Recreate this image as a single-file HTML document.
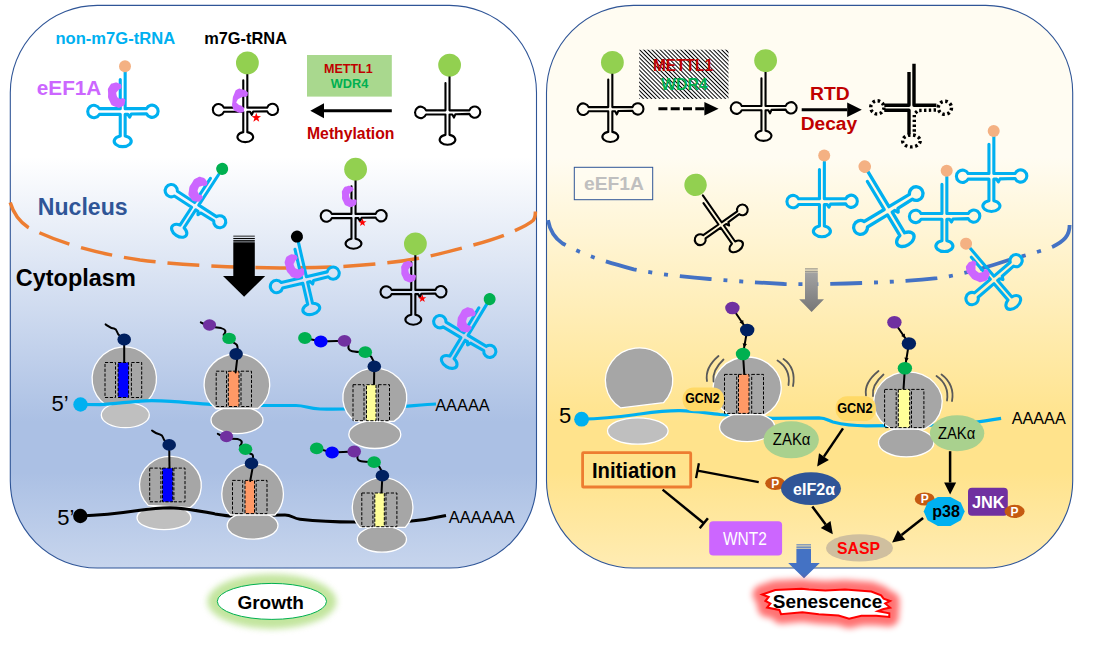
<!DOCTYPE html>
<html><head><meta charset="utf-8"><title>m7G tRNA model</title>
<style>
html,body{margin:0;padding:0;background:#fff;}
svg{display:block;font-family:'Liberation Sans', Arial, sans-serif;}
</style></head><body>
<svg width="1097" height="645" viewBox="0 0 1097 645">
<defs>
<linearGradient id="gl" x1="0" y1="0" x2="0" y2="1">
<stop offset="0" stop-color="#ffffff"/><stop offset="0.27" stop-color="#ffffff"/><stop offset="0.74" stop-color="#abc0e4"/><stop offset="0.83" stop-color="#abc0e4"/><stop offset="1" stop-color="#c7d5ed"/>
</linearGradient>
<linearGradient id="gr" x1="0" y1="0" x2="0" y2="1">
<stop offset="0" stop-color="#fffcf2"/><stop offset="0.27" stop-color="#fffcf2"/><stop offset="0.74" stop-color="#ffe38c"/><stop offset="0.83" stop-color="#ffe38c"/><stop offset="1" stop-color="#ffecb3"/>
</linearGradient>
<linearGradient id="gg" x1="0" y1="0" x2="0" y2="1">
<stop offset="0" stop-color="#a3a3a3"/><stop offset="1" stop-color="#767676"/>
</linearGradient>
<pattern id="hatch" width="2.9" height="2.9" patternUnits="userSpaceOnUse" patternTransform="rotate(45)">
<rect width="2.9" height="2.9" fill="#fff"/><rect width="2.9" height="1.0" fill="#000"/>
</pattern>
<filter id="glow" x="-30%" y="-80%" width="160%" height="260%"><feGaussianBlur stdDeviation="3.2"/></filter>
<filter id="glow2" x="-30%" y="-100%" width="160%" height="300%"><feGaussianBlur stdDeviation="3.4"/></filter>
</defs>
<rect width="1097" height="645" fill="#fff"/>

<rect x="10.3" y="5.4" width="526.2" height="562.6" rx="87" ry="87" fill="url(#gl)" stroke="#2f5597" stroke-width="1.1"/>
<rect x="546.5" y="5.4" width="526.2" height="562.6" rx="87" ry="87" fill="url(#gr)" stroke="#2f5597" stroke-width="1.1"/>
<text x="55.5" y="44.2" font-size="16.56" fill="#00b0f0" font-weight="700" text-anchor="start" textLength="119.6" lengthAdjust="spacingAndGlyphs">non-m7G-tRNA</text>
<text x="204.2" y="44.0" font-size="16.38" fill="#000" font-weight="700" text-anchor="start" textLength="82.8" lengthAdjust="spacingAndGlyphs">m7G-tRNA</text>
<text x="36.8" y="94.6" font-size="20.73" fill="#cc66ff" font-weight="700" text-anchor="start" textLength="64.5" lengthAdjust="spacingAndGlyphs">eEF1A</text>
<g transform="translate(122.7,111.5) rotate(0)">
<path d="M -2.45,-32 L -2.45,-2.85 L -23.3,-2.85 A 6.2 6.2 0 1 0 -23.3,2.85 L -2.45,2.85 L -2.45,24.4 A 8.5 5.5 0 1 0 2.45,24.4 L 2.45,2.85 L 5.2,2.85 L 7,5.6 L 8.6,2.5500000000000003 L 23.8,2.25 A 6.1 6.1 0 1 0 23.8,-2.85 L 2.45,-2.85 L 2.45,-39.5" transform="scale(1.0)" fill="none" stroke="#00b0f0" stroke-width="3.10" stroke-linejoin="round" stroke-linecap="round"/>
<circle cx="2.3" cy="-45.2" r="6" fill="#f4b183"/>
<path transform="translate(-6.2,-16.5) rotate(0) scale(1.0)" d="M 2.60,-11.40 C 0.17,-12.27 0.77,-12.97 -2.50,-12.00 C -5.77,-11.03 -5.23,-11.83 -7.20,-8.50 C -9.17,-5.17 -8.50,-6.83 -8.40,-2.00 C -8.30,2.83 -9.10,1.47 -6.90,6.00 C -4.70,10.53 -5.93,9.80 -1.80,11.60 C 2.33,13.40 2.07,12.93 5.50,11.40 C 8.93,9.87 7.90,9.60 8.50,7.00 C 9.10,4.40 9.13,4.73 7.30,3.60 C 5.47,2.47 5.43,4.97 3.00,3.60 C 0.57,2.23 0.50,2.20 0.00,-0.50 C -0.50,-3.20 0.07,-2.47 1.50,-4.50 C 2.93,-6.53 3.20,-4.97 4.30,-6.60 C 5.40,-8.23 5.37,-7.80 4.80,-9.40 C 4.23,-11.00 5.03,-10.53 2.60,-11.40 Z" fill="#cc66ff"/>
</g>
<g transform="translate(245.3,109.7) rotate(0)">
<path d="M -2.2,-32 L -2.2,-2.25 L -23.3,-2.25 A 6.2 6.2 0 1 0 -23.3,2.25 L -2.2,2.25 L -2.2,24.4 A 8.5 5.5 0 1 0 2.2,24.4 L 2.2,2.25 L 5.2,2.25 L 7,5.6 L 8.6,1.95 L 23.8,1.65 A 6.1 6.1 0 1 0 23.8,-2.25 L 2.2,-2.25 L 2.2,-39.5" transform="scale(0.92)" fill="none" stroke="#000" stroke-width="2.28" stroke-linejoin="round" stroke-linecap="round"/>
<circle cx="2.1" cy="-46.8" r="11.4" fill="#92d050"/>
<path transform="translate(-5.3,-8.7) rotate(0) scale(1.0)" d="M -2.50,-11.70 C -0.03,-13.17 -1.30,-12.53 1.80,-11.80 C 4.90,-11.07 4.83,-11.20 6.80,-9.50 C 8.77,-7.80 8.00,-8.43 7.70,-6.70 C 7.40,-4.97 8.07,-5.33 5.90,-4.30 C 3.73,-3.27 4.20,-5.07 1.20,-3.60 C -1.80,-2.13 -2.07,-2.17 -3.10,0.10 C -4.13,2.37 -3.77,1.43 -1.90,3.20 C -0.03,4.97 0.53,3.53 2.50,5.40 C 4.47,7.27 4.23,6.73 4.00,8.80 C 3.77,10.87 4.37,11.00 1.80,11.60 C -0.77,12.20 -0.73,12.17 -3.70,10.60 C -6.67,9.03 -5.83,10.40 -7.10,6.90 C -8.37,3.40 -8.00,4.87 -7.50,0.10 C -7.00,-4.67 -7.27,-3.47 -5.60,-7.40 C -3.93,-11.33 -4.97,-10.23 -2.50,-11.70 Z" fill="#cc66ff"/>
<polygon points="11.00,3.00 12.18,6.38 15.76,6.45 12.90,8.62 13.94,12.05 11.00,10.00 8.06,12.05 9.10,8.62 6.24,6.45 9.82,6.38" fill="#ff0000"/>
</g>
<rect x="307" y="55" width="84.8" height="41.6" fill="#a9d88e"/>
<text x="324.0" y="72.8" font-size="12.52" fill="#c00000" font-weight="700" text-anchor="start" textLength="48.7" lengthAdjust="spacingAndGlyphs">METTL1</text>
<text x="330.8" y="88.4" font-size="12.74" fill="#00b050" font-weight="700" text-anchor="start" textLength="37.5" lengthAdjust="spacingAndGlyphs">WDR4</text>
<line x1="391.8" y1="110.8" x2="324.0" y2="110.8" stroke="#000" stroke-width="3"/>
<polygon points="310.3,110.8 324.0,103.3 324.0,118.3" fill="#000"/>
<text x="307.0" y="138.5" font-size="15.75" fill="#c00000" font-weight="700" text-anchor="start" textLength="87.5" lengthAdjust="spacingAndGlyphs">Methylation</text>
<g transform="translate(447.5,112.4) rotate(0)">
<path d="M -2.2,-32 L -2.2,-2.25 L -23.3,-2.25 A 6.2 6.2 0 1 0 -23.3,2.25 L -2.2,2.25 L -2.2,24.4 A 8.5 5.5 0 1 0 2.2,24.4 L 2.2,2.25 L 5.2,2.25 L 7,5.6 L 8.6,1.95 L 23.8,1.65 A 6.1 6.1 0 1 0 23.8,-2.25 L 2.2,-2.25 L 2.2,-39.5" transform="scale(0.92)" fill="none" stroke="#000" stroke-width="2.28" stroke-linejoin="round" stroke-linecap="round"/>
<circle cx="2.1" cy="-47.3" r="11.4" fill="#92d050"/>
</g>
<path d="M 10.2,202.5 C 14,215 20,222 28,227.2 C 60,244 100,254 140,260 C 180,265 230,267.5 280,268 C 340,268 390,264.5 430,256 C 470,246.5 497,239 514,231 C 522,227.5 529,224 533,220.5 C 535,218.5 535.4,216 535.4,211.5" fill="none" stroke="#ed7d31" stroke-width="3.5" stroke-dasharray="32 12"/>
<text x="37.8" y="215.0" font-size="23.08" fill="#2f5597" font-weight="700" text-anchor="start" textLength="89.8" lengthAdjust="spacingAndGlyphs">Nucleus</text>
<text x="15.8" y="286.0" font-size="23.47" fill="#000" font-weight="700" text-anchor="start" textLength="120.0" lengthAdjust="spacingAndGlyphs">Cytoplasm</text>
<g transform="translate(195.2,206.2) rotate(33)">
<path d="M -2.45,-32 L -2.45,-2.85 L -23.3,-2.85 A 6.2 6.2 0 1 0 -23.3,2.85 L -2.45,2.85 L -2.45,24.4 A 8.5 5.5 0 1 0 2.45,24.4 L 2.45,2.85 L 5.2,2.85 L 7,5.6 L 8.6,2.5500000000000003 L 23.8,2.25 A 6.1 6.1 0 1 0 23.8,-2.85 L 2.45,-2.85 L 2.45,-39.5" transform="scale(0.99)" fill="none" stroke="#00b0f0" stroke-width="3.13" stroke-linejoin="round" stroke-linecap="round"/>
<circle cx="2.3" cy="-46.0" r="6" fill="#00b050"/>
<path transform="translate(-7.0,-16.0) rotate(0) scale(1.0)" d="M 2.60,-11.40 C 0.17,-12.27 0.77,-12.97 -2.50,-12.00 C -5.77,-11.03 -5.23,-11.83 -7.20,-8.50 C -9.17,-5.17 -8.50,-6.83 -8.40,-2.00 C -8.30,2.83 -9.10,1.47 -6.90,6.00 C -4.70,10.53 -5.93,9.80 -1.80,11.60 C 2.33,13.40 2.07,12.93 5.50,11.40 C 8.93,9.87 7.90,9.60 8.50,7.00 C 9.10,4.40 9.13,4.73 7.30,3.60 C 5.47,2.47 5.43,4.97 3.00,3.60 C 0.57,2.23 0.50,2.20 0.00,-0.50 C -0.50,-3.20 0.07,-2.47 1.50,-4.50 C 2.93,-6.53 3.20,-4.97 4.30,-6.60 C 5.40,-8.23 5.37,-7.80 4.80,-9.40 C 4.23,-11.00 5.03,-10.53 2.60,-11.40 Z" fill="#cc66ff"/>
</g>
<g transform="translate(353.5,216.0) rotate(0)">
<path d="M -2.2,-32 L -2.2,-2.25 L -23.3,-2.25 A 6.2 6.2 0 1 0 -23.3,2.25 L -2.2,2.25 L -2.2,24.4 A 8.5 5.5 0 1 0 2.2,24.4 L 2.2,2.25 L 5.2,2.25 L 7,5.6 L 8.6,1.95 L 23.8,1.65 A 6.1 6.1 0 1 0 23.8,-2.25 L 2.2,-2.25 L 2.2,-39.5" transform="scale(0.93)" fill="none" stroke="#000" stroke-width="2.26" stroke-linejoin="round" stroke-linecap="round"/>
<circle cx="2.1" cy="-46.8" r="11.4" fill="#92d050"/>
<path transform="translate(-4.3,-19.6) rotate(0) scale(0.85)" d="M 2.60,-11.40 C 0.17,-12.27 0.77,-12.97 -2.50,-12.00 C -5.77,-11.03 -5.23,-11.83 -7.20,-8.50 C -9.17,-5.17 -8.50,-6.83 -8.40,-2.00 C -8.30,2.83 -9.10,1.47 -6.90,6.00 C -4.70,10.53 -5.93,9.80 -1.80,11.60 C 2.33,13.40 2.07,12.93 5.50,11.40 C 8.93,9.87 7.90,9.60 8.50,7.00 C 9.10,4.40 9.13,4.73 7.30,3.60 C 5.47,2.47 5.43,4.97 3.00,3.60 C 0.57,2.23 0.50,2.20 0.00,-0.50 C -0.50,-3.20 0.07,-2.47 1.50,-4.50 C 2.93,-6.53 3.20,-4.97 4.30,-6.60 C 5.40,-8.23 5.37,-7.80 4.80,-9.40 C 4.23,-11.00 5.03,-10.53 2.60,-11.40 Z" fill="#cc66ff"/>
<polygon points="9.00,2.30 9.99,5.14 12.99,5.20 10.60,7.02 11.47,9.90 9.00,8.18 6.53,9.90 7.40,7.02 5.01,5.20 8.01,5.14" fill="#ff0000"/>
</g>
<rect x="233.3" y="235.70" width="21.5" height="0.85" fill="#000"/>
<rect x="233.3" y="237.95" width="21.5" height="1.16" fill="#000"/>
<rect x="233.3" y="240.12" width="21.5" height="1.47" fill="#000"/>
<polygon points="233.3,242.36 254.8,242.36 254.8,276 265.2,276 244.1,296.7 223,276 233.3,276" fill="#000"/>
<g transform="translate(304.6,280.0) rotate(-13)">
<path d="M -2.45,-32 L -2.45,-2.85 L -23.3,-2.85 A 6.2 6.2 0 1 0 -23.3,2.85 L -2.45,2.85 L -2.45,24.4 A 8.5 5.5 0 1 0 2.45,24.4 L 2.45,2.85 L 5.2,2.85 L 7,5.6 L 8.6,2.5500000000000003 L 23.8,2.25 A 6.1 6.1 0 1 0 23.8,-2.85 L 2.45,-2.85 L 2.45,-39.5" transform="scale(1.0)" fill="none" stroke="#00b0f0" stroke-width="3.10" stroke-linejoin="round" stroke-linecap="round"/>
<circle cx="2.3" cy="-44.0" r="6" fill="#000"/>
<path transform="translate(-7.0,-15.5) rotate(0) scale(1.0)" d="M 2.60,-11.40 C 0.17,-12.27 0.77,-12.97 -2.50,-12.00 C -5.77,-11.03 -5.23,-11.83 -7.20,-8.50 C -9.17,-5.17 -8.50,-6.83 -8.40,-2.00 C -8.30,2.83 -9.10,1.47 -6.90,6.00 C -4.70,10.53 -5.93,9.80 -1.80,11.60 C 2.33,13.40 2.07,12.93 5.50,11.40 C 8.93,9.87 7.90,9.60 8.50,7.00 C 9.10,4.40 9.13,4.73 7.30,3.60 C 5.47,2.47 5.43,4.97 3.00,3.60 C 0.57,2.23 0.50,2.20 0.00,-0.50 C -0.50,-3.20 0.07,-2.47 1.50,-4.50 C 2.93,-6.53 3.20,-4.97 4.30,-6.60 C 5.40,-8.23 5.37,-7.80 4.80,-9.40 C 4.23,-11.00 5.03,-10.53 2.60,-11.40 Z" fill="#cc66ff"/>
</g>
<g transform="translate(413.3,292.0) rotate(0)">
<path d="M -2.2,-32 L -2.2,-2.25 L -23.3,-2.25 A 6.2 6.2 0 1 0 -23.3,2.25 L -2.2,2.25 L -2.2,24.4 A 8.5 5.5 0 1 0 2.2,24.4 L 2.2,2.25 L 5.2,2.25 L 7,5.6 L 8.6,1.95 L 23.8,1.65 A 6.1 6.1 0 1 0 23.8,-2.25 L 2.2,-2.25 L 2.2,-39.5" transform="scale(0.93)" fill="none" stroke="#000" stroke-width="2.26" stroke-linejoin="round" stroke-linecap="round"/>
<circle cx="2.1" cy="-48.2" r="11.4" fill="#92d050"/>
<path transform="translate(-4.8,-20.4) rotate(0) scale(0.85)" d="M 2.60,-11.40 C 0.17,-12.27 0.77,-12.97 -2.50,-12.00 C -5.77,-11.03 -5.23,-11.83 -7.20,-8.50 C -9.17,-5.17 -8.50,-6.83 -8.40,-2.00 C -8.30,2.83 -9.10,1.47 -6.90,6.00 C -4.70,10.53 -5.93,9.80 -1.80,11.60 C 2.33,13.40 2.07,12.93 5.50,11.40 C 8.93,9.87 7.90,9.60 8.50,7.00 C 9.10,4.40 9.13,4.73 7.30,3.60 C 5.47,2.47 5.43,4.97 3.00,3.60 C 0.57,2.23 0.50,2.20 0.00,-0.50 C -0.50,-3.20 0.07,-2.47 1.50,-4.50 C 2.93,-6.53 3.20,-4.97 4.30,-6.60 C 5.40,-8.23 5.37,-7.80 4.80,-9.40 C 4.23,-11.00 5.03,-10.53 2.60,-11.40 Z" fill="#cc66ff"/>
<polygon points="9.00,2.30 9.99,5.14 12.99,5.20 10.60,7.02 11.47,9.90 9.00,8.18 6.53,9.90 7.40,7.02 5.01,5.20 8.01,5.14" fill="#ff0000"/>
</g>
<g transform="translate(464.5,336.5) rotate(31)">
<path d="M -2.45,-32 L -2.45,-2.85 L -23.3,-2.85 A 6.2 6.2 0 1 0 -23.3,2.85 L -2.45,2.85 L -2.45,24.4 A 8.5 5.5 0 1 0 2.45,24.4 L 2.45,2.85 L 5.2,2.85 L 7,5.6 L 8.6,2.5500000000000003 L 23.8,2.25 A 6.1 6.1 0 1 0 23.8,-2.85 L 2.45,-2.85 L 2.45,-39.5" transform="scale(1.0)" fill="none" stroke="#00b0f0" stroke-width="3.10" stroke-linejoin="round" stroke-linecap="round"/>
<circle cx="2.3" cy="-45.0" r="6" fill="#00b050"/>
<path transform="translate(-7.0,-15.5) rotate(0) scale(1.0)" d="M 2.60,-11.40 C 0.17,-12.27 0.77,-12.97 -2.50,-12.00 C -5.77,-11.03 -5.23,-11.83 -7.20,-8.50 C -9.17,-5.17 -8.50,-6.83 -8.40,-2.00 C -8.30,2.83 -9.10,1.47 -6.90,6.00 C -4.70,10.53 -5.93,9.80 -1.80,11.60 C 2.33,13.40 2.07,12.93 5.50,11.40 C 8.93,9.87 7.90,9.60 8.50,7.00 C 9.10,4.40 9.13,4.73 7.30,3.60 C 5.47,2.47 5.43,4.97 3.00,3.60 C 0.57,2.23 0.50,2.20 0.00,-0.50 C -0.50,-3.20 0.07,-2.47 1.50,-4.50 C 2.93,-6.53 3.20,-4.97 4.30,-6.60 C 5.40,-8.23 5.37,-7.80 4.80,-9.40 C 4.23,-11.00 5.03,-10.53 2.60,-11.40 Z" fill="#cc66ff"/>
</g>
<ellipse cx="125.3" cy="415.0" rx="24.0" ry="12.7" fill="#bfbfbf" stroke="#fff" stroke-width="1.3"/>
<path d="M 103.1,402.8 A 32.2 31.9 0 1 1 145.5,402.8 Z" fill="#a6a6a6" stroke="#fff" stroke-width="1.3" transform="rotate(-6 124.3 378.8)"/>
<rect x="118.1" y="362.5" width="10.5" height="35.0" fill="#0000ff"/>
<rect x="105.0" y="362.5" width="10.5" height="35.0" fill="none" stroke="#000" stroke-width="1" stroke-dasharray="3.2 1.6"/>
<rect x="118.1" y="362.5" width="10.5" height="35.0" fill="none" stroke="#000" stroke-width="1" stroke-dasharray="3.2 1.6"/>
<rect x="131.4" y="362.5" width="10.3" height="35.0" fill="none" stroke="#000" stroke-width="1" stroke-dasharray="3.2 1.6"/>
<path d="M 80,404.5 L 100,404.6 C 115,404 130,401.5 145,400.8 C 155,400.5 165,401 171,401.4 C 185,402.3 200,404 211,404.5 L 260,405.5 L 296,405.5 C 305,405.5 308,408.5 320,409 C 335,409.5 350,409 360,408.5 L 395,407 C 410,406 425,404.5 436,404" fill="none" stroke="#00b0f0" stroke-width="3.2"/>
<circle cx="80.5" cy="404.5" r="7.2" fill="#00b0f0"/>
<text x="51.5" y="410.8" font-size="22" fill="#000" font-weight="400" text-anchor="start">5’</text>
<text x="435.2" y="410.7" font-size="16.37" fill="#000" font-weight="400" text-anchor="start" textLength="54.6" lengthAdjust="spacingAndGlyphs">AAAAA</text>
<path d="M 124.2,362.5 L 124.2,339.5" fill="none" stroke="#000" stroke-width="2"/>
<path d="M 119.5,335.5 C 116,333 118,329.5 114,328.5 C 110,328 108,326 105.6,324.4" fill="none" stroke="#000" stroke-width="2" stroke-linecap="round"/>
<ellipse cx="124.2" cy="339.5" rx="6.8" ry="5.9" fill="#002060"/>
<ellipse cx="237.0" cy="420.0" rx="26.0" ry="13.7" fill="#a6a6a6" stroke="#fff" stroke-width="1.3"/>
<path d="M 215.8,408.5 A 32.8 31.0 0 1 1 258.0,408.5 Z" fill="#a6a6a6" stroke="#fff" stroke-width="1.3"/>
<rect x="228.3" y="371.2" width="10.7" height="35.3" fill="#ff9966"/>
<rect x="216.2" y="371.2" width="10.3" height="35.3" fill="none" stroke="#000" stroke-width="1" stroke-dasharray="3.2 1.6"/>
<rect x="228.3" y="371.2" width="10.7" height="35.3" fill="none" stroke="#000" stroke-width="1" stroke-dasharray="3.2 1.6"/>
<rect x="241.0" y="371.2" width="10.5" height="35.3" fill="none" stroke="#000" stroke-width="1" stroke-dasharray="3.2 1.6"/>
<path d="M 235.6,372.4 L 237.3,358.0 M 237.7,349.0 C 237.5,345.0 237.1,344.2 233.1,342.4 M 223.6,334.9 C 227.1,330.9 225.1,329.1 221.1,328.1 L 215.0,327.2 M 204.0,324.0 L 200.8,322.3" fill="none" stroke="#000" stroke-width="2" stroke-linecap="round"/>
<ellipse cx="236.1" cy="354.0" rx="6.8" ry="5.9" fill="#002060"/>
<ellipse cx="229.1" cy="338.4" rx="6.8" ry="5.7" fill="#00b050"/>
<ellipse cx="209.5" cy="325.0" rx="6.6" ry="5.8" fill="#7030a0"/>
<ellipse cx="374.8" cy="434.5" rx="26.0" ry="14.0" fill="#a6a6a6" stroke="#fff" stroke-width="1.3"/>
<path d="M 355.6,421.4 A 32.0 29.5 0 1 1 394.0,421.4 Z" fill="#a6a6a6" stroke="#fff" stroke-width="1.3"/>
<rect x="366.5" y="384.7" width="9.5" height="36.0" fill="#ffff99"/>
<rect x="353.0" y="384.7" width="11.0" height="36.0" fill="none" stroke="#000" stroke-width="1" stroke-dasharray="3.2 1.6"/>
<rect x="366.5" y="384.7" width="9.5" height="36.0" fill="none" stroke="#000" stroke-width="1" stroke-dasharray="3.2 1.6"/>
<rect x="378.4" y="384.7" width="11.1" height="36.0" fill="none" stroke="#000" stroke-width="1" stroke-dasharray="3.2 1.6"/>
<path d="M 374,384.7 L 374.3,366.4 C 374,358 370,355 365.3,352.2 C 355,352 347,352 348.5,346 C 349,342 346,341 344.5,340.8 L 320.8,341.5 L 304.9,338" fill="none" stroke="#000" stroke-width="2"/>
<ellipse cx="374.3" cy="366.4" rx="6.8" ry="5.9" fill="#002060"/>
<ellipse cx="365.3" cy="352.2" rx="6.8" ry="5.9" fill="#00b050"/>
<ellipse cx="344.5" cy="340.8" rx="6.8" ry="5.9" fill="#7030a0"/>
<ellipse cx="320.8" cy="341.5" rx="6.8" ry="5.9" fill="#0000ff"/>
<ellipse cx="304.9" cy="338.0" rx="6.8" ry="5.9" fill="#00b050"/>
<ellipse cx="164.0" cy="517.7" rx="27.0" ry="12.0" fill="#bfbfbf" stroke="#fff" stroke-width="1.3"/>
<path d="M 149.3,506.5 A 30.9 29.0 0 1 1 191.5,506.5 Z" fill="#a6a6a6" stroke="#fff" stroke-width="1.3" transform="rotate(3 170.4 485.3)"/>
<rect x="162.5" y="468.1" width="10.2" height="33.7" fill="#0000ff"/>
<rect x="149.7" y="468.1" width="11.2" height="33.7" fill="none" stroke="#000" stroke-width="1" stroke-dasharray="3.2 1.6"/>
<rect x="162.5" y="468.1" width="10.2" height="33.7" fill="none" stroke="#000" stroke-width="1" stroke-dasharray="3.2 1.6"/>
<rect x="173.9" y="468.1" width="11.1" height="33.7" fill="none" stroke="#000" stroke-width="1" stroke-dasharray="3.2 1.6"/>
<path d="M 80,516 C 100,515.5 125,512.5 140,510.3 C 150,508.8 160,507.8 170,507.7 C 185,508 200,511 215,513.9 C 222,515 228,516 232,516 L 285,515 C 292,515 293,518.5 300,519.2 C 320,521.5 340,522 355,522 L 407,521.5 C 420,520.5 435,518 446,515.5" fill="none" stroke="#000" stroke-width="3"/>
<circle cx="80.3" cy="516" r="7.2" fill="#000"/>
<text x="57.3" y="525.0" font-size="22" fill="#000" font-weight="400" text-anchor="start">5’</text>
<text x="448.8" y="523.0" font-size="16.47" fill="#000" font-weight="400" text-anchor="start" textLength="65.9" lengthAdjust="spacingAndGlyphs">AAAAAA</text>
<path d="M 169.5,468.1 L 169.2,444.9" fill="none" stroke="#000" stroke-width="2"/>
<path d="M 165,441 C 162,438 164,435.5 160,434.5 C 156,434 154,432 152,430.5" fill="none" stroke="#000" stroke-width="2" stroke-linecap="round"/>
<ellipse cx="169.2" cy="444.9" rx="6.8" ry="5.9" fill="#002060"/>
<ellipse cx="252.6" cy="525.5" rx="25.4" ry="13.7" fill="#a6a6a6" stroke="#fff" stroke-width="1.3"/>
<path d="M 230.3,515.0 A 30.8 30.5 0 1 1 274.9,515.0 Z" fill="#a6a6a6" stroke="#fff" stroke-width="1.3"/>
<rect x="245.0" y="480.4" width="9.5" height="33.2" fill="#ff9966"/>
<rect x="232.5" y="480.4" width="10.2" height="33.2" fill="none" stroke="#000" stroke-width="1" stroke-dasharray="3.2 1.6"/>
<rect x="245.0" y="480.4" width="9.5" height="33.2" fill="none" stroke="#000" stroke-width="1" stroke-dasharray="3.2 1.6"/>
<rect x="256.2" y="480.4" width="10.8" height="33.2" fill="none" stroke="#000" stroke-width="1" stroke-dasharray="3.2 1.6"/>
<path d="M 250.2,481.0 L 252.7,467.4 M 253.1,458.4 C 252.9,454.4 253.5,455.1 249.5,453.3 M 240.0,445.8 C 243.5,441.8 241.5,440.0 237.5,439.0 L 232.0,438.7 M 221.0,435.5 L 217.8,433.8" fill="none" stroke="#000" stroke-width="2" stroke-linecap="round"/>
<ellipse cx="251.5" cy="463.4" rx="6.8" ry="5.9" fill="#002060"/>
<ellipse cx="245.5" cy="449.3" rx="6.8" ry="5.7" fill="#00b050"/>
<ellipse cx="226.5" cy="436.5" rx="6.6" ry="5.8" fill="#7030a0"/>
<ellipse cx="381.9" cy="539.2" rx="24.6" ry="13.0" fill="#a6a6a6" stroke="#fff" stroke-width="1.3"/>
<path d="M 359.8,527.3 A 30.3 30.0 0 1 1 405.4,527.3 Z" fill="#a6a6a6" stroke="#fff" stroke-width="1.3"/>
<rect x="374.8" y="493.0" width="9.5" height="33.7" fill="#ffff99"/>
<rect x="361.8" y="493.0" width="11.1" height="33.7" fill="none" stroke="#000" stroke-width="1" stroke-dasharray="3.2 1.6"/>
<rect x="374.8" y="493.0" width="9.5" height="33.7" fill="none" stroke="#000" stroke-width="1" stroke-dasharray="3.2 1.6"/>
<rect x="386.0" y="493.0" width="10.9" height="33.7" fill="none" stroke="#000" stroke-width="1" stroke-dasharray="3.2 1.6"/>
<path d="M 381.5,493 L 382.4,475.7 C 382,468 378,465 374.1,462.2 C 364,462 356,462 357.5,456.5 C 358,452.5 356,451.8 354.2,451.5 L 332.1,452.5 L 316.7,448.4" fill="none" stroke="#000" stroke-width="2"/>
<ellipse cx="382.4" cy="475.7" rx="6.8" ry="5.9" fill="#002060"/>
<ellipse cx="374.1" cy="462.2" rx="6.8" ry="5.9" fill="#00b050"/>
<ellipse cx="354.2" cy="451.5" rx="6.8" ry="5.9" fill="#7030a0"/>
<ellipse cx="332.1" cy="452.5" rx="6.8" ry="5.9" fill="#0000ff"/>
<ellipse cx="316.7" cy="448.4" rx="6.8" ry="5.9" fill="#00b050"/>
<ellipse cx="271.9" cy="601.4" rx="64.5" ry="27.5" fill="#92d050" opacity="0.55" filter="url(#glow)"/>
<ellipse cx="271.9" cy="601.4" rx="54.6" ry="18" fill="#fff" stroke="#00b050" stroke-width="1"/>
<text x="237.4" y="608.7" font-size="19.0" fill="#000" font-weight="700" text-anchor="start" textLength="66.5" lengthAdjust="spacingAndGlyphs">Growth</text>
<g transform="translate(610.3,109.2) rotate(0)">
<path d="M -2.2,-32 L -2.2,-2.25 L -23.3,-2.25 A 6.2 6.2 0 1 0 -23.3,2.25 L -2.2,2.25 L -2.2,24.4 A 8.5 5.5 0 1 0 2.2,24.4 L 2.2,2.25 L 5.2,2.25 L 7,5.6 L 8.6,1.95 L 23.8,1.65 A 6.1 6.1 0 1 0 23.8,-2.25 L 2.2,-2.25 L 2.2,-39.5" transform="scale(0.93)" fill="none" stroke="#000" stroke-width="2.26" stroke-linejoin="round" stroke-linecap="round"/>
<circle cx="2.1" cy="-46.8" r="11.4" fill="#92d050"/>
</g>
<rect x="639.2" y="49.7" width="89.3" height="49.2" fill="url(#hatch)"/>
<text x="653.0" y="71.2" font-size="17" fill="#c00000" font-weight="700" text-anchor="start" textLength="60.1" lengthAdjust="spacingAndGlyphs">METTL1</text>
<text x="661.0" y="89.5" font-size="15.86" fill="#00b050" font-weight="700" text-anchor="start" textLength="46.7" lengthAdjust="spacingAndGlyphs">WDR4</text>
<line x1="658.4" y1="108.8" x2="704.4" y2="108.8" stroke="#000" stroke-width="3" stroke-dasharray="9 3.3"/>
<polygon points="718.6,108.8 704.4,115.6 704.4,102.0" fill="#000"/>
<g transform="translate(763.5,108.1) rotate(0)">
<path d="M -2.2,-32 L -2.2,-2.25 L -23.3,-2.25 A 6.2 6.2 0 1 0 -23.3,2.25 L -2.2,2.25 L -2.2,24.4 A 8.5 5.5 0 1 0 2.2,24.4 L 2.2,2.25 L 5.2,2.25 L 7,5.6 L 8.6,1.95 L 23.8,1.65 A 6.1 6.1 0 1 0 23.8,-2.25 L 2.2,-2.25 L 2.2,-39.5" transform="scale(0.93)" fill="none" stroke="#000" stroke-width="2.26" stroke-linejoin="round" stroke-linecap="round"/>
<circle cx="2.1" cy="-47.5" r="11.4" fill="#92d050"/>
</g>
<text x="810.0" y="99.6" font-size="19.27" fill="#c00000" font-weight="700" text-anchor="start" textLength="39.6" lengthAdjust="spacingAndGlyphs">RTD</text>
<line x1="801.7" y1="109.8" x2="847.2" y2="109.8" stroke="#000" stroke-width="3"/>
<polygon points="861.8,109.8 847.2,117.0 847.2,102.6" fill="#000"/>
<text x="800.7" y="129.7" font-size="19.17" fill="#c00000" font-weight="700" text-anchor="start" textLength="56.5" lengthAdjust="spacingAndGlyphs">Decay</text>
<g fill="none" stroke="#000" stroke-width="3.4" stroke-linejoin="round">
<path d="M 914,63.7 L 914,105.2 L 936.4,105.2"/>
<path d="M 909,72 L 909,105.2 L 884.3,105.2"/>
<path d="M 884.3,110.2 L 909,110.2 L 909,134.3"/>
<path d="M 936,110 L 918,110.5 L 914.3,114 L 914.3,134" stroke-dasharray="2.4 2.4" stroke-width="3.4"/>
<circle cx="877.3" cy="107.4" r="6.6" stroke-dasharray="2.6 2.6"/>
<circle cx="944.9" cy="107.8" r="6.6" stroke-dasharray="2.6 2.6"/>
<ellipse cx="911.4" cy="140.9" rx="8.8" ry="6" stroke-dasharray="2.6 2.6"/>
</g>
<rect x="574.3" y="167.3" width="78.4" height="32.4" fill="#fffdf6" fill-opacity="0.5" stroke="#2f5597" stroke-width="1"/>
<text x="584.0" y="189.6" font-size="19.28" fill="#bfbfbf" font-weight="700" text-anchor="start" textLength="60.0" lengthAdjust="spacingAndGlyphs">eEF1A</text>
<g transform="translate(721.2,225.0) rotate(-35)">
<path d="M -2.2,-32 L -2.2,-2.25 L -23.3,-2.25 A 6.2 6.2 0 1 0 -23.3,2.25 L -2.2,2.25 L -2.2,24.4 A 8.5 5.5 0 1 0 2.2,24.4 L 2.2,2.25 L 5.2,2.25 L 7,5.6 L 8.6,1.95 L 23.8,1.65 A 6.1 6.1 0 1 0 23.8,-2.25 L 2.2,-2.25 L 2.2,-39.5" transform="scale(0.88)" fill="none" stroke="#000" stroke-width="2.39" stroke-linejoin="round" stroke-linecap="round"/>
<circle cx="2.0" cy="-47.6" r="11.2" fill="#92d050"/>
</g>
<g transform="translate(821.9,201.6) rotate(0)">
<path d="M -2.45,-32 L -2.45,-2.85 L -23.3,-2.85 A 6.2 6.2 0 1 0 -23.3,2.85 L -2.45,2.85 L -2.45,24.4 A 8.5 5.5 0 1 0 2.45,24.4 L 2.45,2.85 L 5.2,2.85 L 7,5.6 L 8.6,2.5500000000000003 L 23.8,2.25 A 6.1 6.1 0 1 0 23.8,-2.85 L 2.45,-2.85 L 2.45,-39.5" transform="scale(1.0)" fill="none" stroke="#00b0f0" stroke-width="3.10" stroke-linejoin="round" stroke-linecap="round"/>
<circle cx="2.3" cy="-46.0" r="6" fill="#f4b183"/>
</g>
<g transform="translate(888.2,210.8) rotate(-31)">
<path d="M -2.45,-32 L -2.45,-2.85 L -23.3,-2.85 A 6.2 6.2 0 1 0 -23.3,2.85 L -2.45,2.85 L -2.45,24.4 A 8.5 5.5 0 1 0 2.45,24.4 L 2.45,2.85 L 5.2,2.85 L 7,5.6 L 8.6,2.5500000000000003 L 23.8,2.25 A 6.1 6.1 0 1 0 23.8,-2.85 L 2.45,-2.85 L 2.45,-39.5" transform="scale(1.12)" fill="none" stroke="#00b0f0" stroke-width="2.95" stroke-linejoin="round" stroke-linecap="round"/>
<circle cx="2.6" cy="-50.0" r="6.3" fill="#f4b183"/>
</g>
<g transform="translate(944.4,216.4) rotate(0)">
<path d="M -2.45,-32 L -2.45,-2.85 L -23.3,-2.85 A 6.2 6.2 0 1 0 -23.3,2.85 L -2.45,2.85 L -2.45,24.4 A 8.5 5.5 0 1 0 2.45,24.4 L 2.45,2.85 L 5.2,2.85 L 7,5.6 L 8.6,2.5500000000000003 L 23.8,2.25 A 6.1 6.1 0 1 0 23.8,-2.85 L 2.45,-2.85 L 2.45,-39.5" transform="scale(1.0)" fill="none" stroke="#00b0f0" stroke-width="3.10" stroke-linejoin="round" stroke-linecap="round"/>
<circle cx="2.3" cy="-45.7" r="6" fill="#f4b183"/>
</g>
<g transform="translate(991.4,176.3) rotate(0)">
<path d="M -2.45,-32 L -2.45,-2.85 L -23.3,-2.85 A 6.2 6.2 0 1 0 -23.3,2.85 L -2.45,2.85 L -2.45,24.4 A 8.5 5.5 0 1 0 2.45,24.4 L 2.45,2.85 L 5.2,2.85 L 7,5.6 L 8.6,2.5500000000000003 L 23.8,2.25 A 6.1 6.1 0 1 0 23.8,-2.85 L 2.45,-2.85 L 2.45,-39.5" transform="scale(1.0)" fill="none" stroke="#00b0f0" stroke-width="3.10" stroke-linejoin="round" stroke-linecap="round"/>
<circle cx="2.3" cy="-45.3" r="6" fill="#f4b183"/>
</g>
<path d="M 547,212 C 548,228 553,237 562.6,243.5 C 585,256 610,263 633.7,269.4 C 660,274.5 690,277.5 709.6,279 C 740,281.5 765,283 784.4,284 C 810,284.5 840,284 861.4,283 C 890,282 915,280.5 937.2,278.2 C 960,275 985,268 1008.8,260 C 1030,254 1045,250 1053.2,246.5 C 1064,241 1069.6,236 1069.6,225" fill="none" stroke="#4472c4" stroke-width="3.8" stroke-dasharray="32 11.8 4 11.8 4 11.8" stroke-dashoffset="-8"/>
<g transform="translate(994.0,279.9) rotate(-40.5)">
<path d="M -2.45,-32 L -2.45,-2.85 L -23.3,-2.85 A 6.2 6.2 0 1 0 -23.3,2.85 L -2.45,2.85 L -2.45,24.4 A 8.5 5.5 0 1 0 2.45,24.4 L 2.45,2.85 L 5.2,2.85 L 7,5.6 L 8.6,2.5500000000000003 L 23.8,2.25 A 6.1 6.1 0 1 0 23.8,-2.85 L 2.45,-2.85 L 2.45,-39.5" transform="scale(1.0)" fill="none" stroke="#00b0f0" stroke-width="3.10" stroke-linejoin="round" stroke-linecap="round"/>
<circle cx="2.3" cy="-45.7" r="6" fill="#f4b183"/>
<path transform="translate(-7.3,-17.2) rotate(0) scale(1.0)" d="M 2.60,-11.40 C 0.17,-12.27 0.77,-12.97 -2.50,-12.00 C -5.77,-11.03 -5.23,-11.83 -7.20,-8.50 C -9.17,-5.17 -8.50,-6.83 -8.40,-2.00 C -8.30,2.83 -9.10,1.47 -6.90,6.00 C -4.70,10.53 -5.93,9.80 -1.80,11.60 C 2.33,13.40 2.07,12.93 5.50,11.40 C 8.93,9.87 7.90,9.60 8.50,7.00 C 9.10,4.40 9.13,4.73 7.30,3.60 C 5.47,2.47 5.43,4.97 3.00,3.60 C 0.57,2.23 0.50,2.20 0.00,-0.50 C -0.50,-3.20 0.07,-2.47 1.50,-4.50 C 2.93,-6.53 3.20,-4.97 4.30,-6.60 C 5.40,-8.23 5.37,-7.80 4.80,-9.40 C 4.23,-11.00 5.03,-10.53 2.60,-11.40 Z" fill="#cc66ff"/>
</g>
<rect x="805" y="268.00" width="12.8" height="0.55" fill="url(#gg)"/>
<rect x="805" y="269.45" width="12.8" height="0.75" fill="url(#gg)"/>
<rect x="805" y="270.85" width="12.8" height="0.95" fill="url(#gg)"/>
<polygon points="805,272.30 817.8,272.30 817.8,299.2 824,299.2 811.6,312 799.2,299.2 805,299.2" fill="url(#gg)"/>
<path d="M 581,419.2 C 610,418.5 625,416 640,414 C 655,412 668,410.5 680,410.7 C 695,411 705,413 720,414.5 L 772.8,418.4 L 819,417.9 C 826,418 828,420.5 833,422 C 845,425 855,425.8 866,425.8 L 950,425 C 965,424 985,421 1001.1,418.4" fill="none" stroke="#00b0f0" stroke-width="3.2"/>
<circle cx="581.6" cy="419.2" r="7.4" fill="#00b0f0"/>
<text x="559.0" y="423.0" font-size="22" fill="#000" font-weight="400" text-anchor="start">5</text>
<text x="1011.7" y="423.7" font-size="16.19" fill="#000" font-weight="400" text-anchor="start" textLength="54.0" lengthAdjust="spacingAndGlyphs">AAAAA</text>
<ellipse cx="637.8" cy="431.0" rx="30.3" ry="13.2" fill="#bfbfbf" stroke="#fff" stroke-width="1.3"/>
<path d="M 617.6,405.5 A 33.7 32.5 0 1 1 660.6,405.5 Z" fill="#a6a6a6" stroke="#fff" stroke-width="1.3" transform="rotate(-7 639.1 380.5)"/>
<ellipse cx="747.2" cy="427.1" rx="27.7" ry="14.5" fill="#a6a6a6" stroke="#fff" stroke-width="1.3"/>
<path d="M 729.7,414.6 A 34.0 31.0 0 1 1 764.7,414.6 Z" fill="#a6a6a6" stroke="#fff" stroke-width="1.3"/>
<rect x="738.5" y="374.4" width="10.5" height="39.0" fill="#ff9966"/>
<rect x="724.5" y="374.4" width="12.2" height="39.0" fill="none" stroke="#000" stroke-width="1" stroke-dasharray="3.2 1.6"/>
<rect x="738.5" y="374.4" width="10.5" height="39.0" fill="none" stroke="#000" stroke-width="1" stroke-dasharray="3.2 1.6"/>
<rect x="751.7" y="374.4" width="11.8" height="39.0" fill="none" stroke="#000" stroke-width="1" stroke-dasharray="3.2 1.6"/>
<path d="M 744.3,374.4 L 743.0,354.0 L 747.2,330.0 L 732.4,308.0" fill="none" stroke="#000" stroke-width="2"/>
<ellipse cx="743.0" cy="354.0" rx="7.2" ry="6.3" fill="#00b050"/>
<ellipse cx="747.2" cy="330.0" rx="7.2" ry="6.3" fill="#002060"/>
<ellipse cx="732.4" cy="308.0" rx="7.2" ry="6.3" fill="#7030a0"/>
<polygon points="743.6,324.6 739.5,322.5 743.2,320.1" fill="#000"/>
<polygon points="744.1,347.6 742.6,343.3 747.0,344.0" fill="#000"/>
<ellipse cx="906.2" cy="442.4" rx="27.7" ry="14.5" fill="#a6a6a6" stroke="#fff" stroke-width="1.3"/>
<path d="M 891.5,429.0 A 34.2 30.5 0 1 1 924.5,429.0 Z" fill="#a6a6a6" stroke="#fff" stroke-width="1.3"/>
<rect x="898.3" y="389.4" width="11.4" height="38.2" fill="#ffff99"/>
<rect x="884.6" y="389.4" width="11.6" height="38.2" fill="none" stroke="#000" stroke-width="1" stroke-dasharray="3.2 1.6"/>
<rect x="898.3" y="389.4" width="11.4" height="38.2" fill="none" stroke="#000" stroke-width="1" stroke-dasharray="3.2 1.6"/>
<rect x="911.5" y="389.4" width="12.4" height="38.2" fill="none" stroke="#000" stroke-width="1" stroke-dasharray="3.2 1.6"/>
<path d="M 903.5,389.4 L 904.9,368.3 L 908.9,343.5 L 894.4,322.2" fill="none" stroke="#000" stroke-width="2"/>
<ellipse cx="904.9" cy="368.3" rx="7.2" ry="6.3" fill="#00b050"/>
<ellipse cx="908.9" cy="343.5" rx="7.2" ry="6.3" fill="#002060"/>
<ellipse cx="894.4" cy="322.2" rx="7.2" ry="6.3" fill="#7030a0"/>
<polygon points="905.2,338.1 901.2,336.1 904.8,333.6" fill="#000"/>
<polygon points="905.9,361.9 904.4,357.6 908.7,358.3" fill="#000"/>
<g fill="none" stroke="#595959" stroke-width="1.8" stroke-linecap="round">
<path d="M 718.5,356 C 709,364 705.5,372 707,381"/><path d="M 723.5,359.5 C 715.5,367 712.5,374 713.5,381.5"/>
<path d="M 777.5,360.5 C 786,366 790,375 788.5,385"/><path d="M 783.5,359 C 792,365 795,375 793,386"/>
<path d="M 878.5,371 C 868.5,379 864.5,387 866,395.5"/><path d="M 883.5,374.5 C 875,382 872,389 873,396"/>
<path d="M 936.5,376 C 945,382 948.5,391 947,400.5"/><path d="M 941.5,374.5 C 950.5,381 954,391 952,401"/>
</g>
<rect x="682.6" y="387.5" width="41.4" height="23.8" rx="11" fill="#ffd966"/>
<text x="685.3" y="402.8" font-size="14.5" fill="#000" font-weight="700" text-anchor="start" textLength="34.2" lengthAdjust="spacingAndGlyphs">GCN2</text>
<rect x="835.6" y="396.2" width="40.3" height="24.8" rx="11.5" fill="#ffd966"/>
<text x="837.2" y="412.6" font-size="14.5" fill="#000" font-weight="700" text-anchor="start" textLength="35.3" lengthAdjust="spacingAndGlyphs">GCN2</text>
<ellipse cx="791.2" cy="439.8" rx="27.7" ry="18.5" fill="#a9d18e"/>
<text x="772.8" y="445.0" font-size="16.5" fill="#000" font-weight="400" text-anchor="start" textLength="37.7" lengthAdjust="spacingAndGlyphs">ZAKα</text>
<ellipse cx="957.1" cy="433.2" rx="27.2" ry="18" fill="#a9d18e"/>
<text x="937.9" y="439.0" font-size="16.5" fill="#000" font-weight="400" text-anchor="start" textLength="37.4" lengthAdjust="spacingAndGlyphs">ZAKα</text>
<rect x="582.6" y="452.6" width="108.1" height="34.4" rx="0.8" fill="none" stroke="#ed7d31" stroke-width="2.8"/>
<text x="591.9" y="477.8" font-size="21.5" fill="#000" font-weight="700" text-anchor="start" textLength="84.4" lengthAdjust="spacingAndGlyphs">Initiation</text>
<line x1="758.7" y1="482.1" x2="697.5" y2="470.7" stroke="#000" stroke-width="2.3"/>
<line x1="698.9" y1="463.3" x2="696.1" y2="478.1" stroke="#000" stroke-width="2.3"/>
<line x1="662.6" y1="489.6" x2="703.8" y2="523.2" stroke="#000" stroke-width="2.5"/>
<line x1="699.7" y1="528.2" x2="707.9" y2="518.2" stroke="#000" stroke-width="2.5"/>
<rect x="709.2" y="521.2" width="72.9" height="34.2" rx="4" fill="#cc66ff"/>
<text x="722.9" y="545.3" font-size="18" fill="#fff" font-weight="400" text-anchor="start" textLength="43.9" lengthAdjust="spacingAndGlyphs">WNT2</text>
<line x1="843.0" y1="428.4" x2="823.9" y2="456.6" stroke="#000" stroke-width="2.5"/>
<polygon points="817.2,466.5 819.0,453.2 828.9,459.9" fill="#000"/>
<line x1="812.3" y1="506.5" x2="825.7" y2="524.6" stroke="#000" stroke-width="2.5"/>
<polygon points="832.8,534.2 820.8,528.1 830.5,521.0" fill="#000"/>
<line x1="950.1" y1="451.2" x2="950.1" y2="482.5" stroke="#000" stroke-width="2.5"/>
<polygon points="950.1,494.5 944.1,482.5 956.1,482.5" fill="#000"/>
<line x1="923.1" y1="518.0" x2="901.5" y2="535.0" stroke="#000" stroke-width="2.5"/>
<polygon points="892.1,542.4 897.8,530.3 905.2,539.7" fill="#000"/>
<ellipse cx="775.2" cy="483.3" rx="10" ry="6.6" fill="#c55a11"/>
<text x="775.2" y="487.5" font-size="12" fill="#fff" font-weight="700" text-anchor="middle">P</text>
<ellipse cx="811" cy="488.6" rx="30" ry="16.3" fill="#2f5597"/>
<text x="793.1" y="494.5" font-size="16.06" fill="#fff" font-weight="700" text-anchor="start" textLength="42.0" lengthAdjust="spacingAndGlyphs">eIF2α</text>
<ellipse cx="859.5" cy="547.9" rx="33.5" ry="13.7" fill="#cfbf9f"/>
<text x="837.0" y="553.8" font-size="15.79" fill="#ff0000" font-weight="700" text-anchor="start" textLength="43.0" lengthAdjust="spacingAndGlyphs">SASP</text>
<ellipse cx="924.7" cy="499" rx="10" ry="6.6" fill="#c55a11"/>
<text x="924.7" y="503.2" font-size="12" fill="#fff" font-weight="700" text-anchor="middle">P</text>
<polygon points="964.7,511.4 960.8,520.3 950.5,525.9 937.9,525.9 927.6,520.3 923.7,511.4 927.6,502.5 937.9,496.9 950.5,496.9 960.8,502.5" fill="#00b0f0"/>
<text x="932.2" y="517.3" font-size="16.08" fill="#000" font-weight="700" text-anchor="start" textLength="27.7" lengthAdjust="spacingAndGlyphs">p38</text>
<rect x="968" y="487.7" width="39.8" height="28" rx="4" fill="#7030a0"/>
<text x="971.9" y="508.4" font-size="17" fill="#fff" font-weight="700" text-anchor="start" textLength="32.8" lengthAdjust="spacingAndGlyphs">JNK</text>
<ellipse cx="1014.6" cy="511.4" rx="10" ry="6.6" fill="#c55a11"/>
<text x="1014.6" y="515.6" font-size="12" fill="#fff" font-weight="700" text-anchor="middle">P</text>
<rect x="796.4" y="544.00" width="14.6" height="0.63" fill="#4472c4"/>
<rect x="796.4" y="545.65" width="14.6" height="0.85" fill="#4472c4"/>
<rect x="796.4" y="547.25" width="14.6" height="1.08" fill="#4472c4"/>
<polygon points="796.4,548.90 811,548.90 811,563 819.8,563 804.0,578.2 788.2,563 796.4,563" fill="#4472c4"/>
<polygon points="762.2,594.5 775.3,590 801.5,588.7 808.9,589.5 825.3,590.4 845,589.5 858.1,590.4 871.3,591.5 881.1,595.3 883.6,598.6 890.1,601 885.2,603.5 890.1,607.6 882.8,609.2 877.8,611.2 889.3,613.3 889.3,617 876.2,615.8 861.4,615.8 849.1,618.7 838.5,615.5 818.8,614.2 802.4,612.2 781,614.2 779.4,610 767.1,607.6 770.4,603.5 765.4,601 768.7,597" fill="#ff0000" stroke="#ff0000" stroke-width="19" stroke-linejoin="round" opacity="0.55" filter="url(#glow2)"/>
<polygon points="762.2,594.5 775.3,590 801.5,588.7 808.9,589.5 825.3,590.4 845,589.5 858.1,590.4 871.3,591.5 881.1,595.3 883.6,598.6 890.1,601 885.2,603.5 890.1,607.6 882.8,609.2 877.8,611.2 889.3,613.3 889.3,617 876.2,615.8 861.4,615.8 849.1,618.7 838.5,615.5 818.8,614.2 802.4,612.2 781,614.2 779.4,610 767.1,607.6 770.4,603.5 765.4,601 768.7,597" fill="#fff" stroke="#ff0000" stroke-width="2" stroke-linejoin="miter"/>
<text x="772.8" y="608.4" font-size="18.96" fill="#000" font-weight="700" text-anchor="start" textLength="109.6" lengthAdjust="spacingAndGlyphs">Senescence</text>
</svg></body></html>
